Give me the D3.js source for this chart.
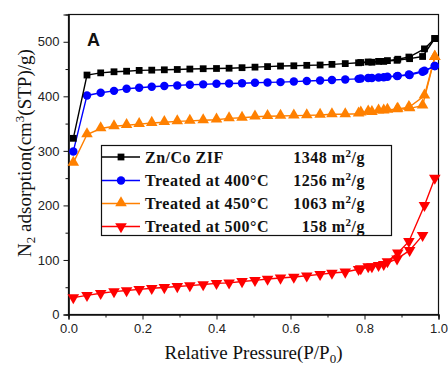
<!DOCTYPE html>
<html>
<head>
<meta charset="utf-8">
<script src="https://cdn.jsdelivr.net/npm/d3@7"></script>
<style>
  html, body { margin: 0; padding: 0; background: #fff; }
  #chart { width: 448px; height: 367px; }
  .tick-label { font-family: 'Liberation Sans', Arial, sans-serif; font-size: 13px; fill: #222; }
  .axis-title { font-family: 'Liberation Serif', 'Times New Roman', serif; font-size: 19px; fill: #111; }
  .legend-text { font-family: 'Liberation Serif', 'Times New Roman', serif; font-size: 16px; font-weight: bold; letter-spacing: 0.5px; fill: #111; }
</style>
</head>
<body>
<div id="chart"></div>
<script>
// relative pressure of the adsorption branch (shared by all samples)
const adsPressure = [0.013, 0.05, 0.087, 0.123, 0.157, 0.191, 0.225, 0.259, 0.294, 0.328,
  0.364, 0.4, 0.434, 0.469, 0.504, 0.538, 0.573, 0.609, 0.644, 0.68,
  0.712, 0.748, 0.784, 0.82, 0.852, 0.888, 0.922, 0.957, 0.99];
// relative pressure of the desorption branch
const desPressure = [0.99, 0.962, 0.92, 0.89, 0.862, 0.838, 0.81, 0.79];

const zifAds = [323, 439, 443, 445, 446, 447.5, 448, 448.6, 449.2, 450,
  450.6, 451, 451.5, 452.5, 453.5, 454.5, 455.5, 456, 456.8, 457.4,
  458.6, 460, 461.5, 462.5, 464, 466, 469, 473, 506];
const zifDes = [506, 487, 472, 468, 465.5, 464, 463, 462];

const t400Ads = [299, 401.6, 406.6, 410, 414, 415.8, 417.6, 418.8, 420, 421.3,
  421.9, 423, 423.5, 424, 425, 425.5, 426, 427, 428, 429,
  430, 431, 432, 433.5, 435, 437, 439, 445, 455.5];
const t400Des = [455.5, 447, 440, 437.5, 436, 434.5, 433.5, 432.5];

const t450Ads = [278, 330, 341, 345, 347, 349, 351, 352.5, 354, 355,
  356, 357, 359.5, 360.6, 362.5, 363.5, 364, 364.6, 365, 365.8,
  367, 367, 368, 371, 373.5, 376, 378, 383, 472];
const t450Des = [472, 401, 380, 377, 375, 373.5, 372, 370];

const t500Ads = [31, 35, 39, 42, 44, 46, 48, 49.6, 51.4, 53,
  55, 57, 58, 60.6, 62.5, 65, 67, 68.7, 71, 73.5,
  76, 78, 83, 88, 92, 102, 117.5, 145, null];
const t500Des = [250, 200, 134, 113, 97, 90, 88, 84];

const seriesNames = ['Zn/Co ZIF', 'Treated at 400\u00B0C', 'Treated at 450\u00B0C', 'Treated at 500\u00B0C'];
const surfaceAreas = ['1348', '1256', '1063', '158'];

const xTicks = [0, 0.2, 0.4, 0.6, 0.8, 1.0];
const xMinorTicks = [0.1, 0.3, 0.5, 0.7, 0.9];
const yTicks = [0, 100, 200, 300, 400, 500];
const yMinorTicks = [50, 150, 250, 350, 450];

const colors = ['#000000', '#0000ff', '#ff8000', '#ff0000'];
const shapes = ['square', 'circle', 'triangle', 'down'];

const W = 448, H = 367;
const plot = { left: 68.5, right: 438.5, top: 14.5, bottom: 314.5 };

const svg = d3.select('#chart').append('svg')
  .attr('width', W)
  .attr('height', H);

const x = d3.scaleLinear().domain([0, 1]).range([plot.left, plot.right]);
const y = d3.scaleLinear().domain([0, 550]).range([plot.bottom, plot.top]);

function symbolPath(shape) {
  if (shape === 'square') return d3.symbol().type(d3.symbolSquare).size(46)();
  if (shape === 'circle') return d3.symbol().type(d3.symbolCircle).size(56)();
  return d3.symbol().type(d3.symbolTriangle).size(58)();
}

function drawMarker(g, shape, color, px, py) {
  g.append('path')
    .attr('d', symbolPath(shape))
    .attr('fill', color)
    .attr('transform', `translate(${px},${py})${shape === 'down' ? ' rotate(180)' : shape === 'triangle' ? ' translate(0,-0.5)' : ''}`);
}

// frame
svg.append('rect')
  .attr('x', plot.left).attr('y', plot.top)
  .attr('width', plot.right - plot.left).attr('height', plot.bottom - plot.top)
  .attr('fill', 'none').attr('stroke', '#111').attr('stroke-width', 1.2);

// axes
svg.append('g')
  .attr('transform', `translate(0,${plot.bottom})`)
  .call(d3.axisBottom(x).tickValues(xTicks).tickFormat(d3.format('.1f')).tickSize(5).tickPadding(4));
svg.append('g')
  .attr('transform', `translate(0,${plot.bottom})`)
  .call(d3.axisBottom(x).tickValues(xMinorTicks).tickFormat('').tickSize(3));

svg.append('g')
  .attr('transform', `translate(${plot.left},0)`)
  .call(d3.axisLeft(y).tickValues(yTicks).tickSize(5).tickPadding(4));
svg.append('g')
  .attr('transform', `translate(${plot.left},0)`)
  .call(d3.axisLeft(y).tickValues(yMinorTicks).tickFormat('').tickSize(3));

svg.selectAll('.domain').attr('stroke', '#111').attr('stroke-width', 1.2);
svg.selectAll('.tick line').attr('stroke', '#111').attr('stroke-width', 1);
svg.selectAll('.tick text').attr('class', 'tick-label').attr('font-family', null).attr('font-size', null).attr('fill', null);

// data
const allAds = [zifAds, t400Ads, t450Ads, t500Ads];
const allDes = [zifDes, t400Des, t450Des, t500Des];

const line = d3.line()
  .defined(d => d[1] !== null)
  .x(d => x(d[0]))
  .y(d => y(d[1]));

const dataLayer = svg.append('g');
for (let s = 3; s >= 0; s--) {
  const ads = adsPressure.map((p, i) => [p, allAds[s][i]]);
  const des = desPressure.map((p, i) => [p, allDes[s][i]]);
  const g = dataLayer.append('g');
  [ads, des].forEach(branch => {
    g.append('path')
      .attr('d', line(branch))
      .attr('fill', 'none')
      .attr('stroke', colors[s])
      .attr('stroke-width', 1.4);
  });
  ads.concat(des).filter(d => d[1] !== null).forEach(d => {
    drawMarker(g, shapes[s], colors[s], x(d[0]), y(d[1]));
  });
}

// panel letter
svg.append('text')
  .attr('x', 87).attr('y', 46)
  .attr('font-family', "'Liberation Sans', Arial, sans-serif")
  .attr('font-weight', 'bold')
  .attr('font-size', 18)
  .attr('fill', '#111')
  .text('A');

// legend
const legend = svg.append('g');
legend.append('rect')
  .attr('x', 101.5).attr('y', 145.5)
  .attr('width', 290).attr('height', 90)
  .attr('fill', '#fff').attr('stroke', '#111').attr('stroke-width', 1.2);

const rowY = [157, 180.5, 203.5, 226.5];
seriesNames.forEach((name, i) => {
  legend.append('line')
    .attr('x1', 102).attr('x2', 140)
    .attr('y1', rowY[i]).attr('y2', rowY[i])
    .attr('stroke', colors[i]).attr('stroke-width', 1.4);
  drawMarker(legend, shapes[i], colors[i], 121, rowY[i]);
  legend.append('text')
    .attr('class', 'legend-text')
    .attr('x', 145).attr('y', rowY[i] + 5.5)
    .text(name);
  const area = legend.append('text')
    .attr('class', 'legend-text')
    .attr('x', 365).attr('y', rowY[i] + 5.5)
    .attr('text-anchor', 'end');
  area.append('tspan').text(surfaceAreas[i] + ' m');
  area.append('tspan').attr('dy', -6).attr('font-size', 11).text('2');
  area.append('tspan').attr('dy', 6).text('/g');
});

// axis titles
const xTitle = svg.append('text')
  .attr('class', 'axis-title')
  .attr('x', (plot.left + plot.right) / 2)
  .attr('y', 359)
  .attr('text-anchor', 'middle');
xTitle.append('tspan').text('Relative Pressure(P/P');
xTitle.append('tspan').attr('dy', 4).attr('font-size', 13).text('0');
xTitle.append('tspan').attr('dy', -4).text(')');

const yTitle = svg.append('text')
  .attr('class', 'axis-title')
  .attr('transform', 'translate(31,153) rotate(-90)')
  .attr('text-anchor', 'middle');
yTitle.append('tspan').text('N');
yTitle.append('tspan').attr('dy', 4).attr('font-size', 13).text('2');
yTitle.append('tspan').attr('dy', -4).text(' adsorption(cm');
yTitle.append('tspan').attr('dy', -7).attr('font-size', 13).text('3');
yTitle.append('tspan').attr('dy', 7).text('(STP)/g)');
</script>
</body>
</html>
